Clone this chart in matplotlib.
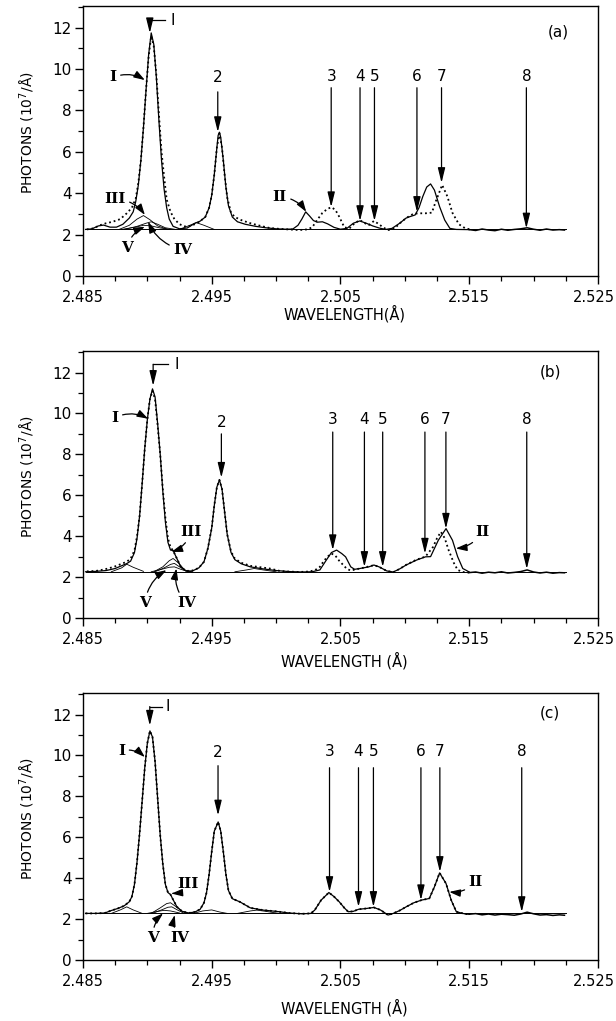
import numpy as np
import matplotlib.pyplot as plt
import matplotlib.transforms as mtransforms
from matplotlib.ticker import FixedLocator, MultipleLocator

plt.rcParams['font.family'] = ['DejaVu Sans']

# ---- panel (a): fitted profile (solid) and measured spectrum (dotted) ----
fit_a = [(2.4852, 2.25), (2.4857, 2.28), (2.4862, 2.42), (2.4866, 2.46), (2.4871, 2.36),
         (2.4876, 2.36), (2.4881, 2.50), (2.4886, 2.80), (2.4889, 3.10), (2.4891, 3.60),
         (2.4893, 4.40), (2.4895, 5.60), (2.4897, 7.20), (2.4899, 9.00), (2.4901, 10.70),
         (2.4903, 11.75), (2.4905, 11.20), (2.4907, 9.60), (2.4909, 7.50), (2.4911, 5.60),
         (2.4913, 4.20), (2.4915, 3.30), (2.4917, 2.75), (2.4920, 2.40), (2.4925, 2.28),
         (2.4931, 2.32), (2.4937, 2.55), (2.4941, 2.65), (2.4945, 2.85), (2.4948, 3.30),
         (2.4950, 3.90), (2.4952, 4.90), (2.4954, 6.20), (2.4955, 6.80), (2.4956, 6.95),
         (2.4957, 6.70), (2.4959, 5.60), (2.4961, 4.30), (2.4963, 3.40), (2.4966, 2.85),
         (2.4970, 2.62), (2.4976, 2.50), (2.4984, 2.40), (2.4992, 2.33), (2.5000, 2.28),
         (2.5008, 2.26), (2.5013, 2.27), (2.5017, 2.45), (2.5020, 2.75), (2.5023, 3.10),
         (2.5026, 2.90), (2.5029, 2.68), (2.5032, 2.60), (2.5036, 2.62), (2.5040, 2.52),
         (2.5045, 2.35), (2.5050, 2.26), (2.5055, 2.30), (2.5060, 2.55), (2.5065, 2.66),
         (2.5070, 2.55), (2.5075, 2.42), (2.5080, 2.32), (2.5085, 2.25), (2.5090, 2.30),
         (2.5096, 2.55), (2.5101, 2.80), (2.5104, 2.87), (2.5108, 2.95), (2.5111, 3.30),
         (2.5114, 3.85), (2.5117, 4.30), (2.5120, 4.45), (2.5123, 4.15), (2.5127, 3.35),
         (2.5131, 2.70), (2.5135, 2.30), (2.5140, 2.25), (2.5150, 2.24)]

data_a = [(2.4853, 2.25), (2.4858, 2.30), (2.4863, 2.45), (2.4868, 2.55), (2.4873, 2.62),
          (2.4879, 2.75), (2.4884, 3.03), (2.4888, 3.30), (2.4891, 3.75), (2.4893, 4.50),
          (2.4895, 5.60), (2.4897, 7.20), (2.4899, 9.00), (2.4901, 10.60), (2.4903, 11.60),
          (2.4905, 11.10), (2.4907, 9.70), (2.4909, 7.80), (2.4911, 6.00), (2.4913, 4.80),
          (2.4915, 3.70), (2.4918, 3.10), (2.4921, 2.75), (2.4925, 2.50), (2.4930, 2.38),
          (2.4935, 2.45), (2.4940, 2.60), (2.4945, 2.85), (2.4948, 3.30), (2.4950, 3.90),
          (2.4952, 4.90), (2.4954, 6.20), (2.4956, 6.90), (2.4958, 6.20), (2.4960, 4.90),
          (2.4962, 3.80), (2.4965, 3.05), (2.4968, 2.85), (2.4973, 2.70), (2.4980, 2.55),
          (2.4988, 2.42), (2.4995, 2.32), (2.5002, 2.28), (2.5010, 2.25), (2.5018, 2.22),
          (2.5024, 2.25), (2.5028, 2.35), (2.5033, 2.80), (2.5036, 3.05), (2.5040, 3.25),
          (2.5043, 3.32), (2.5046, 3.20), (2.5049, 2.87), (2.5053, 2.35), (2.5057, 2.30),
          (2.5061, 2.55), (2.5065, 2.70), (2.5069, 2.55), (2.5072, 2.46), (2.5076, 2.66),
          (2.5080, 2.50), (2.5083, 2.35), (2.5087, 2.22), (2.5092, 2.30), (2.5096, 2.54),
          (2.5101, 2.80), (2.5106, 2.98), (2.5110, 3.03), (2.5116, 3.03), (2.5121, 3.06),
          (2.5124, 3.60), (2.5129, 4.40), (2.5133, 3.85), (2.5137, 3.05), (2.5142, 2.50),
          (2.5147, 2.30), (2.5152, 2.24)]

comps_a = [
    [(2.4878, 2.25), (2.4886, 2.45), (2.4892, 2.75), (2.4897, 2.92), (2.4902, 2.72), (2.4908, 2.42), (2.4916, 2.25)],
    [(2.4882, 2.25), (2.4892, 2.40), (2.4899, 2.55), (2.4903, 2.62), (2.4908, 2.50), (2.4914, 2.33), (2.4922, 2.25)],
    [(2.4880, 2.25), (2.4890, 2.35), (2.4897, 2.45), (2.4903, 2.42), (2.4910, 2.32), (2.4918, 2.25)],
    [(2.4925, 2.25), (2.4933, 2.45), (2.4938, 2.58), (2.4944, 2.45), (2.4952, 2.25)],
]

# ---- panel (b) ----
fit_b = [(2.4852, 2.26), (2.4860, 2.28), (2.4868, 2.32), (2.4875, 2.42), (2.4881, 2.58),
         (2.4884, 2.66), (2.4887, 2.78), (2.4890, 3.20), (2.4892, 3.90), (2.4894, 5.00),
         (2.4896, 6.60), (2.4898, 8.30), (2.4900, 9.70), (2.4902, 10.70), (2.4904, 11.20),
         (2.4906, 10.80), (2.4908, 9.50), (2.4910, 8.00), (2.4912, 6.20), (2.4914, 4.70),
         (2.4916, 3.70), (2.4918, 3.32), (2.4920, 3.30), (2.4923, 2.90), (2.4926, 2.50),
         (2.4930, 2.30), (2.4935, 2.30), (2.4940, 2.45), (2.4944, 2.75), (2.4947, 3.40),
         (2.4950, 4.40), (2.4952, 5.50), (2.4954, 6.40), (2.4956, 6.75), (2.4958, 6.30),
         (2.4960, 5.20), (2.4962, 4.10), (2.4965, 3.20), (2.4968, 2.85), (2.4973, 2.65),
         (2.4980, 2.50), (2.4990, 2.40), (2.5000, 2.32), (2.5010, 2.27), (2.5020, 2.25),
         (2.5028, 2.26), (2.5034, 2.35), (2.5039, 2.83), (2.5043, 3.20), (2.5047, 3.32),
         (2.5051, 3.15), (2.5054, 2.99), (2.5058, 2.50), (2.5061, 2.38), (2.5066, 2.43),
         (2.5072, 2.50), (2.5076, 2.59), (2.5080, 2.50), (2.5086, 2.30), (2.5091, 2.25),
         (2.5096, 2.40), (2.5101, 2.59), (2.5109, 2.83), (2.5116, 2.99), (2.5120, 3.00),
         (2.5126, 3.80), (2.5132, 4.37), (2.5137, 3.80), (2.5141, 3.00), (2.5145, 2.42),
         (2.5150, 2.25)]

data_b = [(2.4853, 2.28), (2.4860, 2.30), (2.4867, 2.38), (2.4874, 2.50), (2.4880, 2.65),
          (2.4884, 2.75), (2.4887, 2.90), (2.4890, 3.30), (2.4892, 4.00), (2.4894, 5.00),
          (2.4896, 6.60), (2.4898, 8.30), (2.4900, 9.70), (2.4902, 10.70), (2.4904, 11.10),
          (2.4906, 10.70), (2.4908, 9.40), (2.4910, 8.00), (2.4912, 6.30), (2.4914, 4.90),
          (2.4916, 3.90), (2.4918, 3.45), (2.4920, 3.30), (2.4923, 2.90), (2.4926, 2.50),
          (2.4930, 2.30), (2.4935, 2.32), (2.4940, 2.45), (2.4944, 2.75), (2.4947, 3.40),
          (2.4950, 4.40), (2.4952, 5.50), (2.4954, 6.40), (2.4956, 6.75), (2.4958, 6.30),
          (2.4960, 5.20), (2.4962, 4.10), (2.4965, 3.25), (2.4968, 2.90), (2.4973, 2.70),
          (2.4980, 2.55), (2.4988, 2.48), (2.4995, 2.42), (2.5003, 2.30), (2.5010, 2.27),
          (2.5018, 2.25), (2.5025, 2.27), (2.5030, 2.33), (2.5034, 2.50), (2.5037, 2.78),
          (2.5040, 3.00), (2.5043, 3.15), (2.5046, 3.05), (2.5049, 2.80), (2.5052, 2.60),
          (2.5055, 2.40), (2.5058, 2.32), (2.5062, 2.38), (2.5066, 2.43), (2.5072, 2.52),
          (2.5076, 2.58), (2.5080, 2.50), (2.5086, 2.30), (2.5091, 2.24), (2.5096, 2.40),
          (2.5101, 2.60), (2.5109, 2.85), (2.5116, 3.00), (2.5122, 3.48), (2.5125, 3.90),
          (2.5128, 4.21), (2.5131, 3.90), (2.5134, 3.32), (2.5138, 2.70), (2.5141, 2.35),
          (2.5145, 2.25), (2.5150, 2.22)]

comps_b = [
    [(2.4872, 2.26), (2.4880, 2.45), (2.4884, 2.63), (2.4889, 2.48), (2.4897, 2.28)],
    [(2.4905, 2.26), (2.4912, 2.50), (2.4917, 2.80), (2.4920, 2.91), (2.4924, 2.70), (2.4929, 2.35), (2.4934, 2.26)],
    [(2.4906, 2.26), (2.4913, 2.45), (2.4918, 2.62), (2.4921, 2.67), (2.4925, 2.50), (2.4930, 2.30), (2.4935, 2.26)],
    [(2.4903, 2.26), (2.4911, 2.38), (2.4917, 2.48), (2.4921, 2.50), (2.4926, 2.38), (2.4932, 2.26)],
    [(2.4968, 2.26), (2.4977, 2.35), (2.4983, 2.42), (2.4990, 2.35), (2.5000, 2.26)],
]

# ---- panel (c) ----
fit_c = [(2.4852, 2.28), (2.4860, 2.28), (2.4867, 2.30), (2.4872, 2.42), (2.4877, 2.52),
         (2.4882, 2.65), (2.4886, 2.85), (2.4888, 3.10), (2.4890, 3.70), (2.4892, 4.80),
         (2.4894, 6.20), (2.4896, 7.80), (2.4898, 9.40), (2.4900, 10.60), (2.4902, 11.20),
         (2.4904, 10.90), (2.4906, 9.70), (2.4908, 7.90), (2.4910, 6.10), (2.4912, 4.70),
         (2.4914, 3.70), (2.4916, 3.30), (2.4918, 3.20), (2.4920, 2.95), (2.4923, 2.60),
         (2.4927, 2.38), (2.4932, 2.30), (2.4937, 2.35), (2.4941, 2.48), (2.4944, 2.80),
         (2.4946, 3.30), (2.4948, 4.20), (2.4950, 5.30), (2.4952, 6.30), (2.4955, 6.75),
         (2.4957, 6.30), (2.4959, 5.30), (2.4961, 4.20), (2.4963, 3.40), (2.4966, 3.00),
         (2.4972, 2.84), (2.4980, 2.55), (2.4990, 2.44), (2.5000, 2.38), (2.5010, 2.30),
         (2.5020, 2.26), (2.5027, 2.28), (2.5030, 2.44), (2.5035, 2.93), (2.5041, 3.30),
         (2.5045, 3.10), (2.5049, 2.85), (2.5053, 2.55), (2.5056, 2.36), (2.5060, 2.38),
         (2.5064, 2.48), (2.5070, 2.52), (2.5076, 2.57), (2.5081, 2.45), (2.5087, 2.20),
         (2.5091, 2.28), (2.5096, 2.42), (2.5101, 2.60), (2.5107, 2.80), (2.5113, 2.93),
         (2.5119, 3.01), (2.5123, 3.58), (2.5127, 4.26), (2.5132, 3.74), (2.5136, 2.93),
         (2.5140, 2.36), (2.5147, 2.25), (2.5150, 2.24)]

comps_c = [
    [(2.4872, 2.28), (2.4879, 2.45), (2.4884, 2.60), (2.4889, 2.45), (2.4896, 2.28)],
    [(2.4903, 2.28), (2.4910, 2.55), (2.4915, 2.76), (2.4918, 2.80), (2.4922, 2.62), (2.4927, 2.38), (2.4932, 2.28)],
    [(2.4904, 2.28), (2.4911, 2.45), (2.4916, 2.58), (2.4919, 2.60), (2.4923, 2.46), (2.4928, 2.30)],
    [(2.4900, 2.28), (2.4908, 2.38), (2.4913, 2.43), (2.4918, 2.40), (2.4925, 2.30)],
    [(2.4936, 2.28), (2.4943, 2.40), (2.4950, 2.45), (2.4956, 2.35), (2.4962, 2.28)],
    [(2.4970, 2.28), (2.4980, 2.40), (2.4985, 2.44), (2.4992, 2.38), (2.5002, 2.28)],
]

# noisy continuum on the long-wavelength side
tail_x = [2.5150, 2.5155, 2.5160, 2.5165, 2.5170, 2.5175, 2.5180, 2.5185,
          2.5190, 2.5195, 2.5200, 2.5205, 2.5210, 2.5215, 2.5220, 2.5224]
tail_a = [2.24, 2.20, 2.27, 2.22, 2.19, 2.26, 2.21, 2.25, 2.28, 2.33, 2.26, 2.21, 2.27, 2.22, 2.24, 2.22]
tail_b = [2.22, 2.25, 2.19, 2.24, 2.21, 2.26, 2.20, 2.23, 2.27, 2.35, 2.25, 2.20, 2.24, 2.19, 2.22, 2.21]
tail_c = [2.24, 2.27, 2.21, 2.25, 2.20, 2.24, 2.22, 2.19, 2.25, 2.34, 2.26, 2.20, 2.22, 2.18, 2.21, 2.19]

baselines = [2.25, 2.26, 2.28]

# numbered line markers: label, wavelength, arrow tip
line_labels = ['2', '3', '4', '5', '6', '7', '8']
lines_a = [(2.49547, 6.96), (2.50428, 3.33), (2.50652, 2.66), (2.50764, 2.66), (2.51094, 3.10), (2.51285, 4.50), (2.51944, 2.30)]
lines_b = [(2.49575, 6.86), (2.50440, 3.32), (2.50686, 2.50), (2.50828, 2.50), (2.51156, 3.15), (2.51319, 4.37), (2.51947, 2.40)]
lines_c = [(2.49549, 7.07), (2.50415, 3.33), (2.50640, 2.60), (2.50756, 2.60), (2.51125, 2.93), (2.51272, 4.31), (2.51908, 2.35)]
# (label y, arrow start y) for line 2 and for lines 3-8
num_y_a = [(9.60, 8.90), (9.66, 9.10)]
num_y_b = [(9.58, 9.00), (9.69, 9.09)]
num_y_c = [(10.16, 9.50), (10.20, 9.40)]

# peak I bracket arrow: x, top, tip, bracket end, label x
peak1_a = (2.49019, 12.37, 11.74, 2.49136, 2.49198)
peak1_b = (2.49045, 12.40, 11.35, 2.49159, 2.49226)
peak1_c = (2.49019, 12.39, 11.46, 2.49112, 2.49161)

# roman component labels: text, label pos, arrow tip
roman_a = [('I', (2.48733, 9.60), (2.48981, 9.47)), ('III', (2.48748, 3.72), (2.48981, 2.95)),
           ('V', (2.48841, 1.35), (2.48981, 2.38)), ('IV', (2.49275, 1.26), (2.49006, 2.62)),
           ('II', (2.50027, 3.83), (2.50234, 3.10))]
roman_b = [('I', (2.48748, 9.80), (2.49006, 9.74)), ('III', (2.49342, 4.21), (2.49187, 3.23)),
           ('V', (2.48981, 0.72), (2.49149, 2.34)), ('IV', (2.49304, 0.72), (2.49226, 2.42)),
           ('II', (2.51601, 4.21), (2.51396, 3.40))]
roman_c = [('I', (2.48800, 10.24), (2.48981, 9.92)), ('III', (2.49316, 3.74), (2.49187, 3.25)),
           ('V', (2.49045, 1.06), (2.49122, 2.28)), ('IV', (2.49252, 1.06), (2.49213, 2.20)),
           ('II', (2.51551, 3.82), (2.51345, 3.33))]

xtick_labels = ['2.485', '2.495', '2.505', '2.515', '2.525']
ytick_values = [0, 2, 4, 6, 8, 10, 12]

panel_names = ['(a)', '(b)', '(c)']
xlabels = ['WAVELENGTH(Å)', 'WAVELENGTH (Å)', 'WAVELENGTH (Å)']

fig = plt.figure(figsize=(6.16, 10.21), dpi=100)
boxes = [[0.1347, 0.7297, 0.836, 0.2644],
         [0.1347, 0.3947, 0.836, 0.2615],
         [0.1347, 0.0597, 0.836, 0.2615]]

panels = [
    (fit_a, data_a, comps_a, tail_a, lines_a, num_y_a, peak1_a, roman_a, -0.14, (0.923, 0.905)),
    (fit_b, data_b, comps_b, tail_b, lines_b, num_y_b, peak1_b, roman_b, -0.16, (0.907, 0.922)),
    (fit_c, fit_c, comps_c, tail_c, lines_c, num_y_c, peak1_c, roman_c, -0.18, (0.907, 0.925)),
]

arrow_kw = dict(arrowstyle='-|>,head_length=0.9,head_width=0.22', color='k', lw=0.9,
                shrinkA=0, shrinkB=0)
curved_kw = dict(arrowstyle='-|>,head_length=0.6,head_width=0.2', color='k', lw=0.9,
                 shrinkA=1, shrinkB=0, connectionstyle='arc3,rad=-0.25')

xmajor = [float(t) for t in xtick_labels]
xminor = np.arange(2.485, 2.5251, 0.0025)
# last tick label sits at the page edge; nudge it inward a few pixels
edge_shift = mtransforms.ScaledTranslation(-4 / 100, 0, fig.dpi_scale_trans)

for i, (fit, data, comps, tail, marks, num_y, p1, roman, xlab_y, name_pos) in enumerate(panels):
    ax = fig.add_axes(boxes[i])
    base = baselines[i]

    # continuum and fitted components
    ax.plot([2.4852, 2.5225], [base, base], color='k', lw=0.7)
    for c in comps:
        cx, cy = np.array(c).T
        ax.plot(cx, cy, color='k', lw=0.6)

    fx, fy = np.array(fit).T
    dx, dy = np.array(data).T
    ax.plot(fx, fy, color='k', lw=0.9)
    ax.plot(dx, dy, color='k', lw=1.3, ls=(0, (1, 1.6)))
    ax.plot(tail_x, tail, color='k', lw=1.1)

    # numbered lines
    for j, (lab, (x, tip)) in enumerate(zip(line_labels, marks)):
        ly, start = num_y[0] if j == 0 else num_y[1]
        ax.annotate('', xy=(x, tip), xytext=(x, start), arrowprops=arrow_kw)
        ax.text(x, ly, lab, ha='center', va='center', fontsize=11)

    # bracketed arrow on the strongest line
    x1, top, tip, xend, lx = p1
    ax.annotate('', xy=(x1, tip), xytext=(x1, top), arrowprops=arrow_kw)
    ax.plot([x1, xend], [top, top], color='k', lw=0.9)
    ax.text(lx, top, 'I', ha='center', va='center', fontsize=11)

    for txt, (tx, ty), (ax_, ay) in roman:
        ax.annotate(txt, xy=(ax_, ay), xytext=(tx, ty), ha='center', va='center',
                    fontsize=11, family='DejaVu Serif', fontweight='bold',
                    arrowprops=curved_kw)

    ax.text(name_pos[0], name_pos[1], panel_names[i], transform=ax.transAxes,
            ha='center', va='center', fontsize=11)

    ax.set_xlim(2.485, 2.525)
    ax.set_ylim(0, 13.05)
    ax.xaxis.set_major_locator(FixedLocator(xmajor))
    ax.xaxis.set_minor_locator(FixedLocator(xminor))
    ax.set_xticklabels(xtick_labels)
    ax.set_yticks(ytick_values)
    ax.yaxis.set_minor_locator(MultipleLocator(1))
    ax.tick_params(which='major', direction='out', length=6, width=1, labelsize=10.5)
    ax.tick_params(axis='y', labelsize=11)
    ax.tick_params(which='minor', direction='out', length=3.5, width=0.9)
    ax.tick_params(axis='x', pad=4)
    ax.tick_params(axis='y', pad=2)
    for s in ax.spines.values():
        s.set_linewidth(1.0)
    last = ax.get_xticklabels()[-1]
    last.set_transform(last.get_transform() + edge_shift)

    ax.text(0.508, xlab_y, xlabels[i], transform=ax.transAxes, ha='center',
            va='center', fontsize=10.5)
    ax.text(-0.107, 0.53, 'PHOTONS (10$^{7}$/Å)', transform=ax.transAxes,
            rotation=90, ha='center', va='center', fontsize=10)

fig.savefig('out.png', dpi=100)
